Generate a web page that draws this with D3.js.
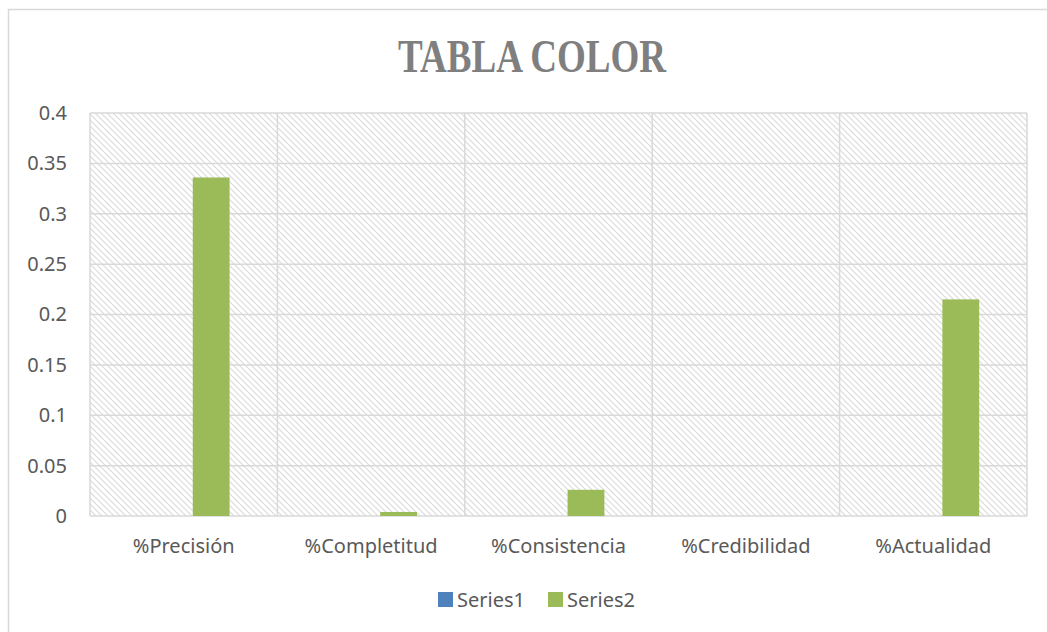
<!DOCTYPE html>
<html>
<head>
<meta charset="utf-8">
<script src="https://cdn.jsdelivr.net/npm/d3@7"></script>
<style>
  body { margin: 0; background: #fff; }
  svg { display: block; }
</style>
</head>
<body>
<svg id="chart" width="1047" height="632"></svg>
<script>
// datos de la tabla
var categories = ["%Precisión", "%Completitud", "%Consistencia", "%Credibilidad", "%Actualidad"];
var seriesNames = ["Series1", "Series2"];
var series1 = [0, 0, 0, 0, 0];
var series2 = [0.336, 0.004, 0.026, 0, 0.215];
var yTicks = [0, 0.05, 0.1, 0.15, 0.2, 0.25, 0.3, 0.35, 0.4];
var colors = ["#4f81bd", "#9bbb59"];

var svg = d3.select("#chart");
var plot = { left: 90, top: 113, right: 1027, bottom: 516 };
var axisFont = "'Noto Sans', sans-serif";

// borde exterior
svg.append("rect")
    .attr("x", 8.5).attr("y", 9.5)
    .attr("width", 1060).attr("height", 640)
    .attr("fill", "#fff")
    .attr("stroke", "#d9d9d9")
    .attr("stroke-width", 1.5);

// trama diagonal del área de trazado
var defs = svg.append("defs");
var pat = defs.append("pattern")
    .attr("id", "hatch")
    .attr("patternUnits", "userSpaceOnUse")
    .attr("width", 6).attr("height", 6);
pat.append("rect").attr("width", 6).attr("height", 6).attr("fill", "#fff");
pat.append("path")
    .attr("d", "M-1,-1 L7,7 M-1,5 L1,7 M5,-1 L7,1")
    .attr("stroke", "#dadada")
    .attr("stroke-width", 1.1);

var x = d3.scaleBand()
    .domain(categories)
    .range([plot.left, plot.right])
    .padding(0);
var xs = d3.scaleBand()
    .domain(seriesNames)
    .range([0, x.bandwidth()])
    .paddingInner(0.33)
    .paddingOuter(0.87);
var y = d3.scaleLinear()
    .domain([0, 0.4])
    .range([plot.bottom, plot.top]);

svg.append("rect")
    .attr("x", plot.left).attr("y", plot.top)
    .attr("width", plot.right - plot.left)
    .attr("height", plot.bottom - plot.top)
    .attr("fill", "url(#hatch)");

// líneas de cuadrícula
svg.append("g").selectAll("line")
    .data(yTicks)
    .enter().append("line")
    .attr("x1", plot.left).attr("x2", plot.right)
    .attr("y1", d => y(d)).attr("y2", d => y(d))
    .attr("stroke", "#d9d9d9")
    .attr("stroke-width", 1.5);

var vx = categories.map(c => x(c)).concat([plot.right]);
svg.append("g").selectAll("line")
    .data(vx)
    .enter().append("line")
    .attr("x1", d => d).attr("x2", d => d)
    .attr("y1", plot.top).attr("y2", plot.bottom)
    .attr("stroke", "#d9d9d9")
    .attr("stroke-width", 1.5);

// barras
var data = [series1, series2];
data.forEach(function (vals, si) {
    svg.append("g").selectAll("rect")
        .data(vals)
        .enter().append("rect")
        .attr("x", (d, i) => x(categories[i]) + xs(seriesNames[si]))
        .attr("y", d => y(d))
        .attr("width", xs.bandwidth())
        .attr("height", d => y(0) - y(d))
        .attr("fill", colors[si]);
});

// eje Y
var yAxis = d3.axisLeft(y)
    .tickValues(yTicks)
    .tickSize(0)
    .tickPadding(0)
    .tickFormat(d => String(+d.toFixed(2)));
var gy = svg.append("g")
    .attr("transform", "translate(" + 67 + ",0)")
    .call(yAxis);
gy.select(".domain").remove();
gy.selectAll("text")
    .attr("fill", "#595959")
    .style("font-family", axisFont)
    .style("font-size", "20px");

// eje X
var xAxis = d3.axisBottom(x).tickSize(0).tickPadding(0);
var gx = svg.append("g")
    .attr("transform", "translate(0," + 539 + ")")
    .call(xAxis);
gx.select(".domain").remove();
gx.selectAll("text")
    .attr("fill", "#595959")
    .style("font-family", axisFont)
    .style("font-size", "20px");

// título
svg.append("text")
    .attr("x", 532).attr("y", 72)
    .attr("text-anchor", "middle")
    .attr("fill", "#7f7f7f")
    .attr("textLength", 268)
    .attr("lengthAdjust", "spacingAndGlyphs")
    .style("font-family", "'Liberation Serif', serif")
    .style("font-weight", "bold")
    .style("font-size", "46px")
    .text("TABLA COLOR");

// leyenda
var legendX = [438, 548];
var lg = svg.append("g").selectAll("g")
    .data(seriesNames)
    .enter().append("g")
    .attr("transform", (d, i) => "translate(" + legendX[i] + ",592)");
lg.append("rect")
    .attr("width", 15).attr("height", 15)
    .attr("fill", (d, i) => colors[i]);
lg.append("text")
    .attr("x", 19).attr("y", 15)
    .attr("fill", "#595959")
    .style("font-family", axisFont)
    .style("font-size", "20px")
    .text(d => d);
</script>
</body>
</html>
